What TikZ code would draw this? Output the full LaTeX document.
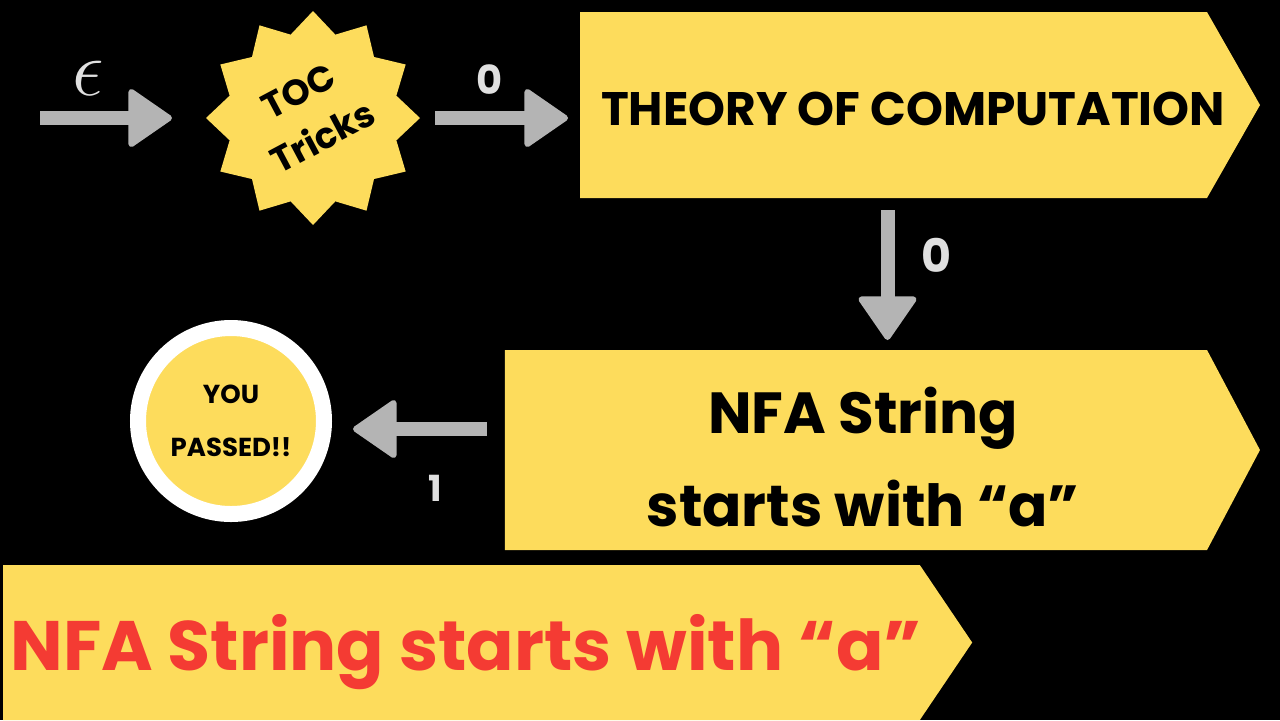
\documentclass[tikz,border=0pt]{standalone}
\usepackage{fontspec}
\setmainfont{Poppins}
\usetikzlibrary{arrows.meta,shapes.geometric,shapes.symbols}

\definecolor{tocyellow}{HTML}{FDDC5C}
\definecolor{arrowgray}{HTML}{B4B4B4}
\definecolor{labelgray}{HTML}{E0E0E0}
\definecolor{titlered}{HTML}{F43B33}

\begin{document}
\begin{tikzpicture}[x=0.5pt,y=-0.5pt,every node/.style={font=\bfseries,outer sep=0pt},
    flow/.style={draw=arrowgray,line width=7pt,-{Triangle[length=23pt,width=31pt,round,line width=3pt]}},
    banner/.style={signal,signal to=east,fill=tocyellow,inner sep=0pt},
    lbl/.style={text=labelgray}]
                \useasboundingbox (0,0) rectangle (1280,720);
                \fill[black] (0,0) rectangle (1280,720);

                % states
                \node[star,star points=12,star point ratio=1.24,minimum size=107pt,inner sep=0pt,fill=tocyellow] (toc) at (313,118) {};
                \node[rotate=28,align=center,font=\bfseries\fontsize{18}{26}\selectfont] (toctxt) at (311,114) {TOC\\Tricks};

                \node[banner,minimum width=340pt,minimum height=93pt,signal pointer angle=120.6] (theory) at (893.5,105) {};
                \node[font=\bfseries\fontsize{23.5}{23.5}\selectfont] (theorytxt) at (913,109) {THEORY OF COMPUTATION};

                \node[banner,minimum width=377.5pt,minimum height=100pt,signal pointer angle=124.2] (nfa) at (856,450) {};
                \node[align=center,font=\bfseries\fontsize{29}{46.5}\selectfont] (nfatxt) at (863,457) {NFA String\\starts with “a”};

                \node[circle,minimum size=93pt,inner sep=0pt,fill=tocyellow,draw=white,line width=8pt,align=center,
                      font=\bfseries\fontsize{13}{26.5}\selectfont] (pass) at (231,421) {YOU\\PASSED!!};

                \node[banner,minimum width=484.5pt,minimum height=77.5pt,signal pointer angle=111.9] (title) at (461.5,642.5) {};
                \node[text=titlered,font=\bfseries\fontsize{35}{35}\selectfont] (titletxt) at (466,652) {NFA String starts with “a”};

                % transitions
                \coordinate (start) at (40,118);
                \draw[flow,shorten >=17pt] (start) -- (toc.west);
                \node[text=labelgray] (eps) at (88,78) {\scalebox{1.6}{\Huge$\epsilon$}};

                \draw[flow,shorten <=7.5pt,shorten >=6pt] (toc.east) -- (toc.east -| theory.west);
                \node[lbl,font=\bfseries\fontsize{20}{20}\selectfont] (zeroa) at (490,80) {0};

                \draw[flow,shorten <=6pt,shorten >=5pt] ([xshift=-3pt]theory.south) -- ([xshift=-3pt]theory.south |- nfa.north);
                \node[lbl,font=\bfseries\fontsize{23}{23}\selectfont] (zerob) at (936,255) {0};

                \draw[flow,shorten <=9pt,shorten >=14.5pt] ([yshift=-4pt]pass.east -| nfa.west) -- ([yshift=-4pt]pass.east);
                \node[lbl,font=\bfseries\fontsize{18}{18}\selectfont] (one) at (435,488) {1};
            \end{tikzpicture}
\end{document}
